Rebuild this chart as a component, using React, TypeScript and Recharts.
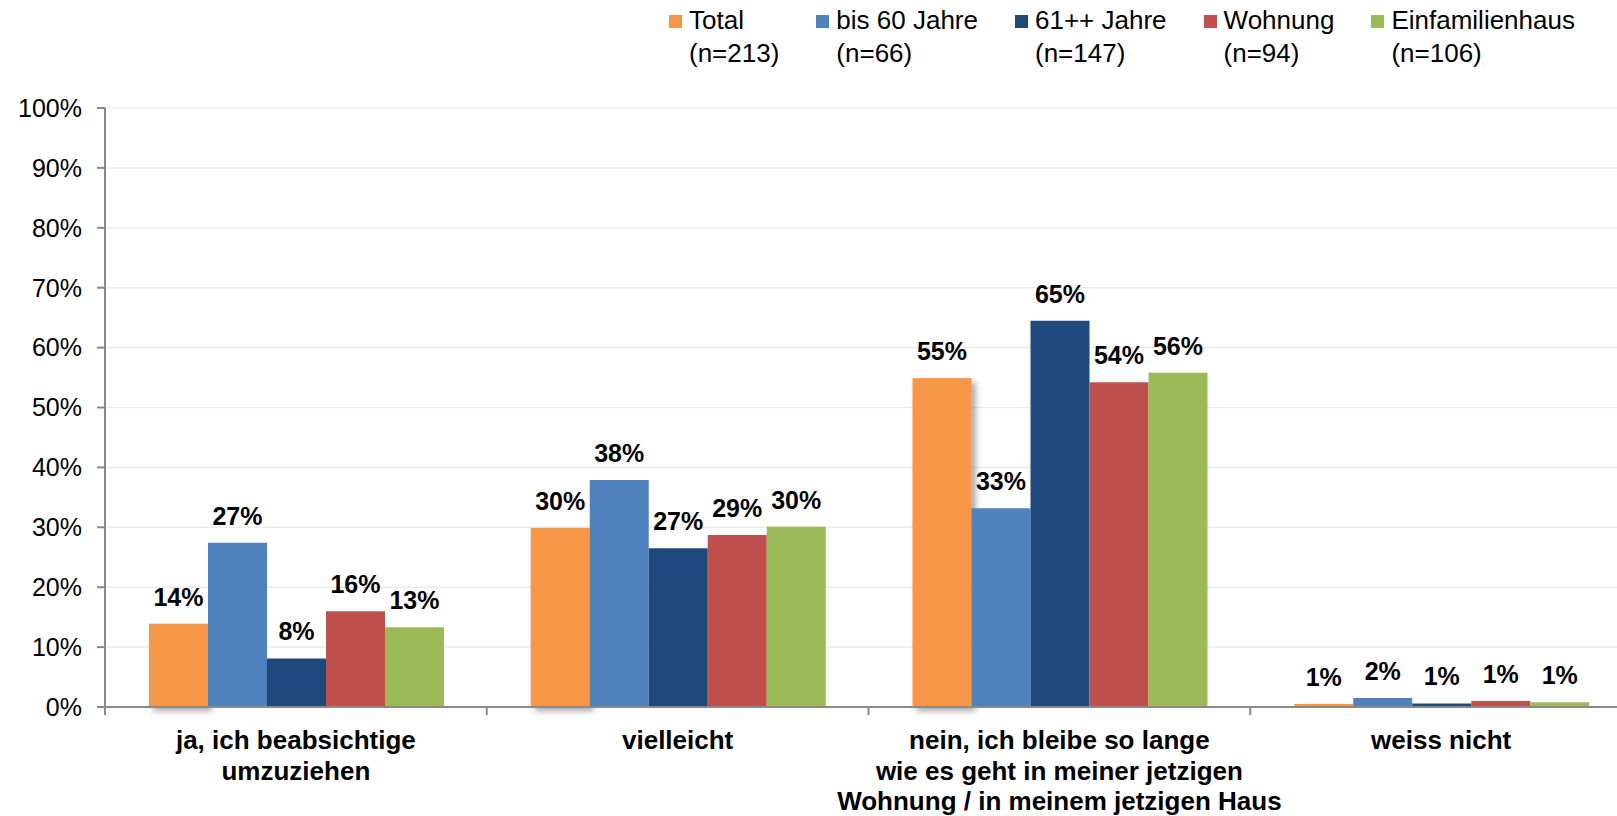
import { BarChart, Bar, XAxis, YAxis, CartesianGrid, LabelList } from 'recharts';

// answer categories (line breaks as in the original axis labels)
const categories = [
  'ja, ich beabsichtige\numzuziehen',
  'vielleicht',
  'nein, ich bleibe so lange\nwie es geht in meiner jetzigen\nWohnung / in meinem jetzigen Haus',
  'weiss nicht',
];

// shares in percent
const total = [13.9, 29.9, 54.9, 0.5];
const bis60 = [27.4, 37.9, 33.2, 1.5];
const ab61 = [8.1, 26.5, 64.5, 0.6];
const wohnung = [16.0, 28.7, 54.2, 1.0];
const einfamilienhaus = [13.3, 30.1, 55.8, 0.8];

const seriesNames = ['Total', 'bis 60 Jahre', '61++ Jahre', 'Wohnung', 'Einfamilienhaus'];
const seriesCounts = ['(n=213)', '(n=66)', '(n=147)', '(n=94)', '(n=106)'];
const seriesKeys = ['total', 'bis60', 'ab61', 'wohnung', 'einfamilienhaus'];
const seriesColors = ['#F79646', '#4F81BD', '#1F497D', '#C0504D', '#9BBB59'];

const yTicks = [0, 10, 20, 30, 40, 50, 60, 70, 80, 90, 100];

const data = categories.map((name, i) => ({
  name,
  total: total[i],
  bis60: bis60[i],
  ab61: ab61[i],
  wohnung: wohnung[i],
  einfamilienhaus: einfamilienhaus[i],
}));

const FONT = '"Liberation Sans", Arial, Helvetica, sans-serif';
const CHART_W = 1640;
const CHART_H = 816;
const MARGIN = { top: 108, right: 8, left: 0, bottom: 9 };
const Y_AXIS_W = 105;
const BAND = (CHART_W - MARGIN.left - MARGIN.right - Y_AXIS_W) / categories.length;
const AXIS_COLOR = '#898989';

function CategoryTick(props: any) {
  const { x, y, payload } = props;
  const lines = String(payload.value).split('\n');
  return (
    <g>
      <line x1={x - BAND / 2} x2={x - BAND / 2} y1={y} y2={y + 8} stroke={AXIS_COLOR} strokeWidth={2} />
      <text textAnchor="middle" fontSize={26} fontWeight="bold" fill="#000">
        {lines.map((line, i) => (
          <tspan key={i} x={x} y={y + 42 + i * 30.5}>
            {line}
          </tspan>
        ))}
      </text>
    </g>
  );
}

function ShadowBar(props: any) {
  const { x, y, width, height, fill } = props;
  return <rect x={x} y={y} width={width} height={height} fill={fill} filter="url(#barShadow)" />;
}

function ChartLegend() {
  return (
    <div
      style={{
        position: 'absolute',
        top: 4,
        left: 669,
        display: 'flex',
        gap: 37,
        fontSize: 26,
        lineHeight: '33px',
        color: '#000',
        whiteSpace: 'nowrap',
        zIndex: 2,
      }}
    >
      {seriesNames.map((name, i) => (
        <div key={name} style={{ display: 'flex', alignItems: 'flex-start' }}>
          <div style={{ width: 13, height: 13, marginTop: 11, marginRight: 7, background: seriesColors[i] }} />
          <div>
            <div>{name}</div>
            <div>{seriesCounts[i]}</div>
          </div>
        </div>
      ))}
    </div>
  );
}

export default function App() {
  return (
    <div
      style={{
        position: 'absolute',
        left: 0,
        top: 0,
        width: 1617,
        height: 816,
        overflow: 'hidden',
        background: '#fff',
        fontFamily: FONT,
      }}
    >
      <ChartLegend />
      <BarChart width={CHART_W} height={CHART_H} data={data} margin={MARGIN} barCategoryGap={44} barGap={0}>
        <defs>
          <filter id="barShadow" x="-10%" y="-10%" width="130%" height="130%">
            <feDropShadow dx={4} dy={4} stdDeviation={3} floodColor="#000" floodOpacity={0.35} />
          </filter>
        </defs>
        <CartesianGrid vertical={false} stroke="#ececec" strokeWidth={1.5} />
        <XAxis
          dataKey="name"
          interval={0}
          height={100}
          tickSize={0}
          tickMargin={0}
          tickLine={false}
          axisLine={{ stroke: AXIS_COLOR, strokeWidth: 2 }}
          tick={CategoryTick}
        />
        <YAxis
          width={Y_AXIS_W}
          domain={[0, 100]}
          ticks={yTicks}
          interval={0}
          tickFormatter={(v: number) => `${v}%`}
          tickSize={8}
          tickMargin={15}
          tickLine={{ stroke: AXIS_COLOR, strokeWidth: 2 }}
          axisLine={{ stroke: AXIS_COLOR, strokeWidth: 2 }}
          tick={{ fill: '#000', fontSize: 25 }}
        />
        {seriesKeys.map((key, i) => (
          <Bar
            key={key}
            dataKey={key}
            name={seriesNames[i]}
            fill={seriesColors[i]}
            isAnimationActive={false}
            shape={i === 0 ? ShadowBar : undefined}
          >
            <LabelList
              dataKey={key}
              position="top"
              offset={18}
              formatter={(v: any) => `${Math.round(Number(v))}%`}
              fill="#000"
              fontSize={25}
              fontWeight="bold"
            />
          </Bar>
        ))}
      </BarChart>
    </div>
  );
}
